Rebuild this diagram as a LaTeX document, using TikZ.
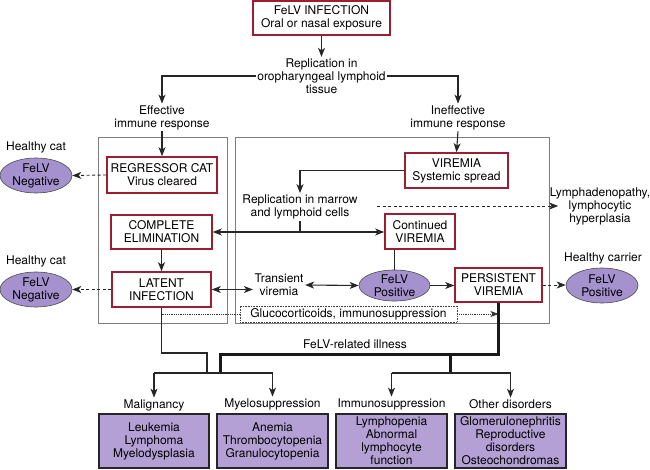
\documentclass[tikz,border=0pt]{standalone}
\usepackage{fontspec}
\setmainfont{TeX Gyre Heros}
\usetikzlibrary{arrows.meta,shapes.geometric}
\definecolor{boxred}{RGB}{155,30,50}
\definecolor{elfill}{RGB}{165,145,205}
\definecolor{bfill}{RGB}{180,160,212}
\definecolor{framegray}{RGB}{125,125,125}
\begin{document}
\begin{tikzpicture}[x=1pt,y=-1pt,
 every node/.style={font=\fontsize{12}{13}\selectfont, align=center},
 redbox/.style={draw=boxred, line width=1.6pt, fill=white, inner sep=0pt},
 txt/.style={inner sep=1.5pt},
 oval/.style={ellipse, draw=black!70, line width=0.6pt, fill=elfill, inner sep=0pt, minimum width=72pt, minimum height=35pt},
 purplebox/.style={draw=black!85, line width=2pt, fill=bfill, inner sep=0pt, minimum width=110pt, minimum height=54pt},
 frame/.style={draw=framegray, line width=0.7pt},
 conn/.style={line width=1.1pt, draw=black!85},
 arr/.style={conn, -{Stealth[length=9pt,width=7pt,inset=2.5pt]}},
 darr/.style={conn, {Stealth[length=9pt,width=7pt,inset=2.5pt]}-{Stealth[length=9pt,width=7pt,inset=2.5pt]}},
 dasharr/.style={arr, line width=0.9pt, dash pattern=on 3pt off 2.5pt},
 dotline/.style={line width=0.8pt, draw=black!80, densely dotted},
 heavyline/.style={line width=3pt, draw=black!90},
]
\useasboundingbox (0,0) rectangle (650,470);
% frames
\draw[frame] (98,137) rectangle (227,323);
\draw[frame] (235,137) rectangle (549,323);

% top
\node[redbox, minimum width=137pt, minimum height=34pt] (inf) at (321.5,18) {FeLV INFECTION\\Oral or nasal exposure};
\node[txt] (rep) at (321.5,76) {Replication in\\oropharyngeal lymphoid\\tissue};
\node[txt] (eff) at (162,117.5) {Effective\\immune response};
\node[txt] (ineff) at (458,117.5) {Ineffective\\immune response};

% left column
\node[redbox, minimum width=110pt, minimum height=36pt] (reg) at (162,175) {REGRESSOR CAT\\Virus cleared};
\node[redbox, minimum width=101pt, minimum height=34pt] (comp) at (161.5,232) {COMPLETE\\ELIMINATION};
\node[redbox, minimum width=99pt, minimum height=35pt] (lat) at (161.5,289.5) {LATENT\\INFECTION};

\node[txt] (hc1) at (36,147) {Healthy cat};
\node[oval] (e1) at (36,175.5) {FeLV\\Negative};
\node[txt] (hc2) at (36,261) {Healthy cat};
\node[oval] (e2) at (36,289.5) {FeLV\\Negative};

% right column
\node[redbox, minimum width=103pt, minimum height=35pt] (vir) at (456.5,170.5) {VIREMIA\\Systemic spread};
\node[txt] (repm) at (300,207) {Replication in marrow\\and lymphoid cells};
\node[redbox, minimum width=70pt, minimum height=35pt] (contv) at (420,231.5) {Continued\\VIREMIA};
\node[txt] (lymph) at (600,206) {Lymphadenopathy,\\lymphocytic\\hyperplasia};
\coordinate (dstart) at (377,206);
\node[txt] (trans) at (279,285) {Transient\\viremia};
\node[oval, minimum width=71pt, minimum height=30pt] (fpos) at (394.5,285.5) {FeLV\\Positive};
\node[redbox, minimum width=87pt, minimum height=34pt] (pers) at (498.5,285) {PERSISTENT\\VIREMIA};
\node[txt] (hcar) at (603,258) {Healthy carrier};
\node[oval] (e3) at (602,285.5) {FeLV\\Positive};
\node[draw=black!75, line width=0.6pt, densely dotted, minimum width=217pt, minimum height=16pt, inner sep=0pt] (gluc) at (348.5,314) {Glucocorticoids, immunosuppression};

% illness
\node[txt] (ill) at (355,344) {FeLV-related illness};
\node[txt] (mal) at (154,405) {Malignancy};
\node[txt] (mye) at (272.5,404) {Myelosuppression};
\node[txt] (imm) at (391.5,404) {Immunosuppression};
\node[txt] (oth) at (510.5,404) {Other disorders};
\node[purplebox] (b1) at (154,441) {Leukemia\\Lymphoma\\Myelodysplasia};
\node[purplebox, minimum width=111pt] (b2) at (272.5,441) {Anemia\\Thrombocytopenia\\Granulocytopenia};
\node[purplebox, minimum width=111pt] (b3) at (391.5,441) {Lymphopenia\\Abnormal\\lymphocyte\\function};
\node[purplebox, minimum width=111pt] (b4) at (510.5,441) {Glomerulonephritis\\Reproductive\\disorders\\Osteochondromas};

\coordinate (br) at (0,373);
\coordinate (jl) at (207,353);
\coordinate (jt) at (220,354);
\coordinate (jr) at (450,354);

% connectors top
\draw[arr] (inf) -- (rep);
\draw[arr] (rep.west) -| (eff.north);
\draw[arr] (rep.east) -| (ineff.north);
\draw[arr] (eff.south) -- (reg.north);
\draw[arr] (ineff.south) -- (vir.north);
\draw[dasharr] (reg.west) -- (e1.east);
\draw[arr] (comp.south) -- (lat.north);
\draw[dasharr] (lat.west) -- (e2.east);
\draw[darr] (lat.east) -- (lat.east -| trans.west);
\draw[darr] (trans.east) -- (fpos.west);
\draw[conn] (fpos.north) -- (fpos.north |- contv.south);
\draw[arr] (fpos.east) -- (fpos.east -| pers.west);
\draw[dasharr] (pers.east) -- (pers.east -| e3.west);
\draw[arr] (vir.west) -| (repm.north);
\draw[darr] (comp.east) -- (comp.east -| contv.west);
\draw[conn] (repm.south) -- (repm.south |- comp.east);
\draw[dasharr] (dstart) -- ([xshift=10pt]lymph.west);

% lower connectors
\draw[dotline] (lat.south |- gluc.west) -- (gluc.west);
\draw[dotline, -{Stealth[length=8pt,width=6pt,inset=2pt]}] (gluc.east) -- (pers.south |- gluc.east);
\draw[conn] (lat.south) -- (lat.south |- jl) -- (jl) -- (jl |- br);
\draw[heavyline] (pers.south) -- (pers.south |- jt) -- (jt) -- (jt |- br);
\draw[heavyline] (jr) -- (jr |- br);
\draw[conn] (mal.north |- br) -- (mye.north |- br);
\draw[conn] (imm.north |- br) -- (oth.north |- br);
\draw[arr] (mal.north |- br) -- (mal.north);
\draw[arr] (mye.north |- br) -- (mye.north);
\draw[arr] (imm.north |- br) -- (imm.north);
\draw[arr] (oth.north |- br) -- (oth.north);
\end{tikzpicture}
\end{document}
